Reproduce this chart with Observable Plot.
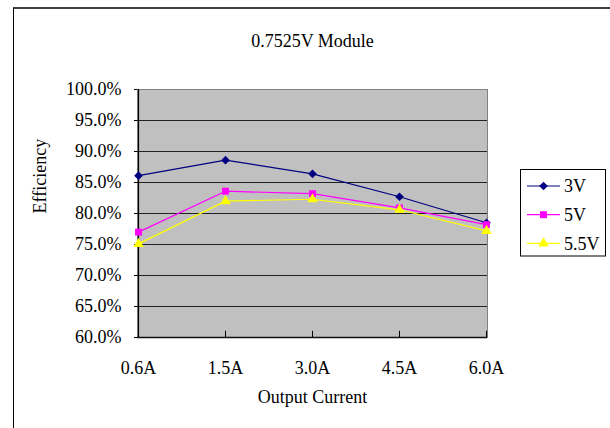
<!DOCTYPE html>
<html>
<head>
<meta charset="utf-8">
<script src="https://cdn.jsdelivr.net/npm/d3@7"></script>
<script src="https://cdn.jsdelivr.net/npm/@observablehq/plot@0.6"></script>
<style>
  html, body { margin: 0; padding: 0; background: white; overflow: hidden; }
  #wrap { position: relative; width: 610px; height: 428px; }
  #outer { position: absolute; left: 13px; top: 7px; width: 800px; height: 600px;
           border-top: 2px solid #404040; border-left: 1px solid #000; pointer-events: none; }
  #legend { position: absolute; left: 0; top: 0; }
</style>
</head>
<body>
<div id="wrap"><div id="outer"></div></div>
<script>
const categories = ["0.6A", "1.5A", "3.0A", "4.5A", "6.0A"];
const series = ["3V", "5V", "5.5V"];
const eff3V  = [86.1, 88.6, 86.4, 82.7, 78.5];
const eff5V  = [77.0, 83.6, 83.2, 80.9, 78.2];
const eff55V = [75.1, 82.0, 82.3, 80.6, 77.2];
const yTicks = [60, 65, 70, 75, 80, 85, 90, 95, 100];
const title = "0.7525V Module";
const xLabel = "Output Current";
const yLabel = "Efficiency";

const colors = ["#000080", "#FF00FF", "#FFFF00"];
const symbols = ["diamond2", "square", "triangle"];
const font = "Liberation Serif, Times New Roman, serif";

const values = [eff3V, eff5V, eff55V];
const data = [];
series.forEach((s, i) => categories.forEach((c, j) => data.push({series: s, cat: c, v: values[i][j]})));

const chart = Plot.plot({
  width: 610,
  height: 428,
  marginLeft: 137,
  marginRight: 123,
  marginTop: 89,
  marginBottom: 91,
  style: {fontFamily: font, fontSize: "18px", color: "black", background: "transparent", overflow: "visible"},
  x: {type: "point", domain: categories, padding: 0, axis: null},
  y: {domain: [60, 100], axis: null},
  color: {domain: series, range: colors},
  symbol: {domain: series, range: symbols},
  marks: [
    Plot.frame({fill: "#C0C0C0", stroke: "#808080"}),
    Plot.ruleY(yTicks.slice(1, -1), {stroke: "#222", strokeWidth: 1}),
    Plot.ruleY([yTicks[0]], {stroke: "#111", strokeWidth: 1.5}),
    Plot.ruleX([categories[0]], {stroke: "#000", strokeWidth: 1.2}),
    Plot.ruleX(categories, {y1: 60, y2: 61, stroke: "#000"}),
    Plot.axisY(yTicks, {tickSize: 3, tickPadding: 13, tickFormat: d => d.toFixed(1) + "%", fontSize: 18, stroke: "#000", label: null}),
    Plot.axisX(categories, {tickSize: 0, tickPadding: 24, fontSize: 18, label: null}),
    Plot.line(data, {x: "cat", y: "v", z: "series", stroke: "series", strokeWidth: 1.2}),
    Plot.dot(data, {x: "cat", y: "v", fill: "series", symbol: "series", r: 3.9, stroke: "none"}),
    Plot.text([title], {frameAnchor: "top", dy: -55, fontSize: 18, fill: "#000"}),
    Plot.text([xLabel], {frameAnchor: "bottom", dy: 65, fontSize: 18, fill: "#000"}),
    Plot.text([yLabel], {frameAnchor: "left", dx: -97, rotate: -90, fontSize: 18, fill: "#000"})
  ]
});
document.getElementById("wrap").insertBefore(chart, document.getElementById("outer"));

// Legend
const symMap = {diamond2: d3.symbolDiamond2, square: d3.symbolSquare, triangle: d3.symbolTriangle};
const lg = d3.select("#wrap").append("svg").attr("id", "legend")
  .attr("width", 610).attr("height", 428).style("pointer-events", "none");
lg.append("rect").attr("x", 520.5).attr("y", 169.5).attr("width", 85).attr("height", 86.5)
  .attr("fill", "white").attr("stroke", "black");
series.forEach((s, i) => {
  const y = 186 + i * 28.7;
  lg.append("line").attr("x1", 527).attr("x2", 560).attr("y1", y).attr("y2", y)
    .attr("stroke", colors[i]).attr("stroke-width", 1.2);
  lg.append("path").attr("transform", `translate(543.5,${y})`)
    .attr("d", d3.symbol(symMap[symbols[i]], Math.PI * 3.9 * 3.9)()).attr("fill", colors[i]);
  lg.append("text").attr("x", 564).attr("y", y).attr("dy", "0.35em")
    .attr("font-family", font).attr("font-size", 18).attr("fill", "black").text(s);
});
</script>
</body>
</html>
